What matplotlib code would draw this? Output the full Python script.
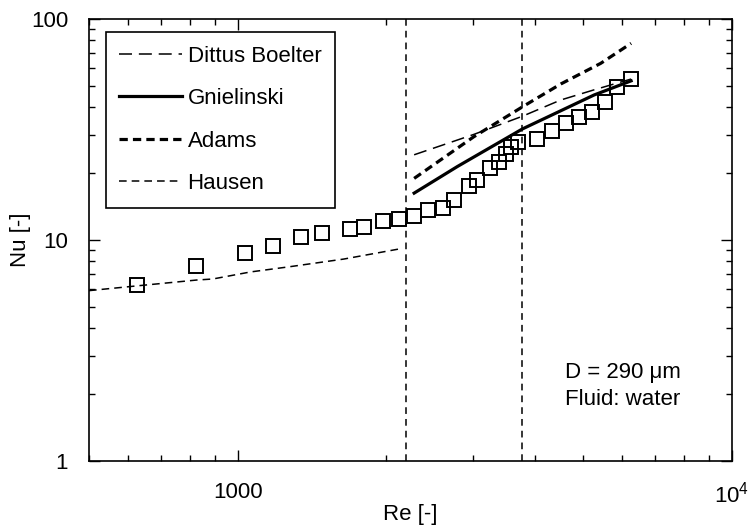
import matplotlib
matplotlib.use("Agg")
import matplotlib.pyplot as plt
from matplotlib.ticker import FixedLocator, FixedFormatter, LogLocator, NullFormatter

plt.rcParams["font.family"] = ["Liberation Sans", "DejaVu Sans"]
plt.rcParams["mathtext.default"] = "regular"

FS = 16

# Experimental data (squares)
re_exp = [625, 825, 1036, 1179, 1343, 1482, 1685, 1802, 1966, 2118, 2276, 2432,
          2600, 2746, 2944, 3050, 3248, 3387, 3493, 3570, 3689, 4040, 4321,
          4620, 4909, 5207, 5548, 5864, 6257]
nu_exp = [6.26, 7.6, 8.76, 9.4, 10.28, 10.72, 11.25, 11.45, 12.15, 12.41, 12.88,
          13.63, 14.0, 15.12, 17.61, 18.6, 21.2, 22.6, 24.5, 26.4, 27.8, 28.7,
          31.1, 33.8, 36.1, 38.1, 42.3, 49.0, 53.5]

# Correlations
re_db = [2276, 3000, 3769, 4507, 5264, 6257]
nu_db = [24.3, 30.0, 36.3, 43.0, 47.8, 53.5]

re_gn = [2276, 2784, 3769, 5264, 6257]
nu_gn = [16.3, 21.5, 31.8, 45.3, 52.5]

re_ad = [2276, 3004, 3795, 4507, 5430, 6257]
nu_ad = [19.0, 29.3, 40.4, 50.8, 63.0, 77.6]

re_ha = [500, 625, 826, 890, 1062, 1274, 1640, 2118]
nu_ha = [5.9, 6.2, 6.59, 6.66, 7.17, 7.57, 8.2, 9.1]

transition_re = [2190, 3770]

fig = plt.figure(figsize=(7.51, 5.28), dpi=100)
ax = fig.add_axes([0.1185, 0.1269, 0.8558, 0.8371])

ax.plot(re_db, nu_db, color="k", lw=1.1, dashes=(8.5, 4.5), label="Dittus Boelter")
ax.plot(re_gn, nu_gn, color="k", lw=2.3, label="Gnielinski")
ax.plot(re_ad, nu_ad, color="k", lw=2.3, dashes=(2.6, 1.6), label="Adams")
ax.plot(re_ha, nu_ha, color="k", lw=1.1, dashes=(5, 3.3), label="Hausen")
ax.plot(re_exp, nu_exp, ls="none", marker="s", ms=9.5, mfc="none", mec="k", mew=1.4)

for r in transition_re:
    ax.axvline(r, color="k", lw=1.1, dashes=(4.4, 3.3))

ax.set_xscale("log")
ax.set_yscale("log")
ax.set_xlim(500, 10000)
ax.set_ylim(1, 100)

ax.xaxis.set_major_locator(FixedLocator([1000, 10000]))
ax.xaxis.set_major_formatter(FixedFormatter(["1000", r"$10^{4}$"]))
ax.xaxis.set_minor_locator(LogLocator(base=10, subs=range(2, 10)))
ax.xaxis.set_minor_formatter(NullFormatter())
ax.yaxis.set_major_locator(FixedLocator([1, 10, 100]))
ax.yaxis.set_major_formatter(FixedFormatter(["1", "10", "100"]))
ax.yaxis.set_minor_locator(LogLocator(base=10, subs=range(2, 10)))
ax.yaxis.set_minor_formatter(NullFormatter())

ax.tick_params(which="both", direction="in", top=True, right=True, width=1.0,
               labelsize=FS, pad=15)
ax.tick_params(which="major", length=8)
ax.tick_params(which="minor", length=4.5)
for s in ax.spines.values():
    s.set_linewidth(1.2)

ax.set_xlabel("Re [-]", fontsize=FS, va="center")
ax.xaxis.set_label_coords(0.5, -0.122)
ax.set_ylabel("Nu [-]", fontsize=FS, va="center")
ax.yaxis.set_label_coords(-0.107, 0.5)

ax.text(0.7406, 0.1885, "D = 290 \u03bcm", transform=ax.transAxes, fontsize=FS,
        va="baseline", ha="left")
ax.text(0.7406, 0.1267, "Fluid: water", transform=ax.transAxes, fontsize=FS,
        va="baseline", ha="left")

leg = ax.legend(loc="upper left", bbox_to_anchor=(0.0265, 0.970), borderaxespad=0,
                fontsize=FS, handlelength=2.8, handletextpad=0.27,
                labelspacing=0.97, borderpad=0.6, fancybox=False, framealpha=1)
leg.get_frame().set_edgecolor("k")
leg.get_frame().set_linewidth(1.2)

fig.savefig("out.png", dpi=100)
